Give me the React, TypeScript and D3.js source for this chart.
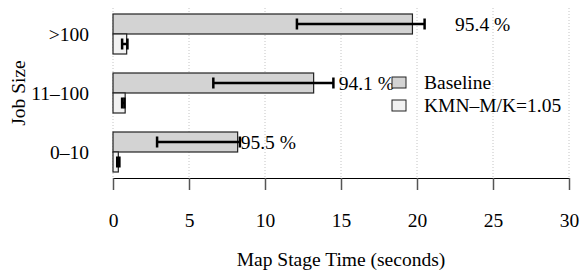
import React, { useEffect, useRef } from 'react';
import * as d3 from 'd3';

// chart data
const categories = ['>100', '11–100', '0–10'];
const seriesNames = ['Baseline', 'KMN–M/K=1.05'];
const baselineMean = [19.7, 13.2, 8.2];
const baselineLow = [12.1, 6.6, 2.9];
const baselineHigh = [20.5, 14.5, 8.35];
const kmnMean = [0.9, 0.8, 0.35];
const kmnLow = [0.6, 0.6, 0.28];
const kmnHigh = [0.95, 0.75, 0.42];
const pctLabels = ['95.4 %', '94.1 %', '95.5 %'];
const pctLabelAt = [22.5, 14.85, 8.4];
const xTicks = [0, 5, 10, 15, 20, 25, 30];

const seriesFill = ['#d3d3d3', '#f2f2f2'];
const FONT = '"Liberation Serif", "Times New Roman", serif';
const FS = 19.5;

const W = 581;
const H = 271;

const App = () => {
  const ref = useRef<SVGSVGElement>(null);

  useEffect(() => {
    if (!ref.current) return;
    const svg = d3.select(ref.current);
    svg.selectAll('*').remove();

    const x = d3.scaleLinear().domain([0, 30]).range([113, 569]);
    const y = d3.scaleBand().domain(categories).range([4.5, 181.5]).paddingInner(0.322).paddingOuter(0.161);
    const sub = d3.scaleBand().domain(seriesNames).range([0, y.bandwidth()]);
    const axisY = 178;

    // dotted grid
    svg.append('g')
      .selectAll('line')
      .data(xTicks)
      .join('line')
      .attr('x1', d => x(d))
      .attr('x2', d => x(d))
      .attr('y1', 8)
      .attr('y2', axisY)
      .attr('stroke', '#c4c4c4')
      .attr('stroke-width', 1)
      .attr('stroke-dasharray', '1,2');

    const rows = categories.map((c, i) => ({
      cat: c,
      vals: [
        { s: seriesNames[0], m: baselineMean[i], lo: baselineLow[i], hi: baselineHigh[i] },
        { s: seriesNames[1], m: kmnMean[i], lo: kmnLow[i], hi: kmnHigh[i] },
      ],
    }));

    const g = svg.append('g').selectAll('g').data(rows).join('g')
      .attr('transform', d => `translate(0,${y(d.cat)})`);

    g.selectAll('rect')
      .data(d => d.vals)
      .join('rect')
      .attr('x', x(0))
      .attr('y', d => sub(d.s)!)
      .attr('width', d => x(d.m) - x(0))
      .attr('height', sub.bandwidth())
      .attr('fill', (d, i) => seriesFill[i])
      .attr('stroke', '#222')
      .attr('stroke-width', 1.2);

    // error bars
    const eb = g.selectAll('g.eb').data(d => d.vals).join('g').attr('class', 'eb')
      .attr('transform', d => `translate(0,${sub(d.s)! + sub.bandwidth() / 2})`);
    eb.append('line')
      .attr('x1', d => x(d.lo))
      .attr('x2', d => x(d.hi))
      .attr('stroke', '#000')
      .attr('stroke-width', 2.5);
    eb.selectAll('line.cap')
      .data(d => [d.lo, d.hi])
      .join('line')
      .attr('class', 'cap')
      .attr('x1', d => x(d))
      .attr('x2', d => x(d))
      .attr('y1', -5.5)
      .attr('y2', 5.5)
      .attr('stroke', '#000')
      .attr('stroke-width', 2.5);

    // percentage labels
    svg.append('g')
      .selectAll('text')
      .data(categories)
      .join('text')
      .attr('x', (d, i) => x(pctLabelAt[i]))
      .attr('y', d => y(d)! + sub.bandwidth() / 2)
      .attr('dy', '0.35em')
      .attr('font-family', FONT)
      .attr('font-size', FS)
      .attr('fill', '#000')
      .text((d, i) => pctLabels[i]);

    // x axis
    const xa = svg.append('g')
      .attr('transform', `translate(0,${axisY})`)
      .call(d3.axisBottom(x).tickValues(xTicks).tickSize(12).tickPadding(23).tickSizeOuter(0));
    xa.select('.domain').attr('stroke', '#000').attr('stroke-width', 1.2);
    xa.selectAll('.tick line').attr('stroke', '#555').attr('stroke-width', 1.5);
    xa.selectAll('.tick text').attr('font-family', FONT).attr('font-size', FS).attr('fill', '#000');

    // y category labels
    svg.append('g')
      .selectAll('text')
      .data(categories)
      .join('text')
      .attr('x', 89)
      .attr('y', d => y(d)! + y.bandwidth() / 2)
      .attr('dy', '0.35em')
      .attr('text-anchor', 'end')
      .attr('font-family', FONT)
      .attr('font-size', FS)
      .attr('fill', '#000')
      .text(d => d);

    // axis titles
    svg.append('text')
      .attr('x', x(15))
      .attr('y', 266)
      .attr('text-anchor', 'middle')
      .attr('font-family', FONT)
      .attr('font-size', FS)
      .text('Map Stage Time (seconds)');

    svg.append('text')
      .attr('transform', `translate(25,${y('11–100')! + y.bandwidth() / 2}) rotate(-90)`)
      .attr('text-anchor', 'middle')
      .attr('font-family', FONT)
      .attr('font-size', FS)
      .text('Job Size');

    // legend
    const lg = svg.append('g').attr('transform', 'translate(392,77)');
    const item = lg.selectAll('g').data(seriesNames).join('g')
      .attr('transform', (d, i) => `translate(0,${i * 23})`);
    item.append('rect')
      .attr('width', 14)
      .attr('height', 11)
      .attr('fill', (d, i) => seriesFill[i])
      .attr('stroke', '#222')
      .attr('stroke-width', 1);
    item.append('text')
      .attr('x', 32)
      .attr('y', 5.5)
      .attr('dy', '0.35em')
      .attr('font-family', FONT)
      .attr('font-size', FS)
      .text(d => d);
  }, []);

  return <svg ref={ref} width={W} height={H} style={{ display: 'block', position: 'absolute', left: 0, top: 0 }} />;
};

export default App;
